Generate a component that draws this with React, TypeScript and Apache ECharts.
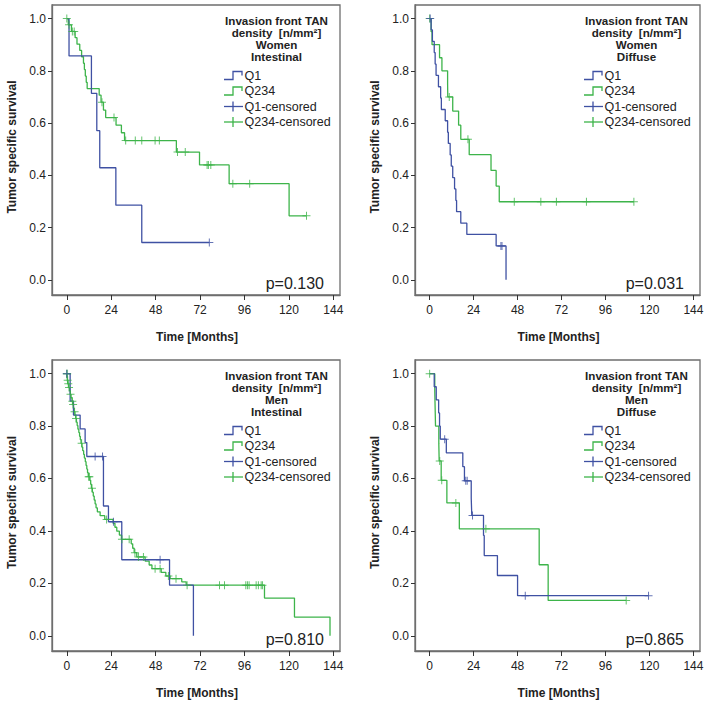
import React, { useEffect, useRef } from "react";
import * as echarts from "echarts";

// ---------- DATA ----------
const xTicks = [0, 24, 48, 72, 96, 120, 144];
const yTicks = [0, 0.2, 0.4, 0.6, 0.8, 1.0];

// Women, Intestinal
const wiQ1Times = [0, 1.2, 13.3, 16.2, 17.8, 26.5, 40.5];
const wiQ1Surv = [1, 0.857, 0.714, 0.571, 0.429, 0.286, 0.143];
const wiQ1Cens = [77];
const wiQ234Times = [0, 0.8, 2.5, 4.5, 5.5, 7, 8, 9, 9.5, 10, 10.5, 11, 17.5, 18.5, 19.8, 21, 26.6, 29.5, 31.2, 59.2, 71.7, 87.7, 120.1];
const wiQ234Surv = [1, 0.976, 0.951, 0.927, 0.902, 0.878, 0.854, 0.829, 0.805, 0.78, 0.756, 0.732, 0.707, 0.68, 0.65, 0.621, 0.592, 0.563, 0.533, 0.489, 0.44, 0.368, 0.245];
const wiQ234Cens = [0, 1.2, 3, 4, 19, 25.5, 31.8, 37, 40.5, 47.7, 50, 59.8, 64, 75.8, 76.5, 77.8, 89.7, 98.8, 129.5];

// Women, Diffuse
const wdQ1Times = [0, 0.8, 1.5, 2.5, 3.0, 3.5, 4.8, 6.0, 6.4, 8.5, 9.8, 10.2, 11.2, 11.8, 12.6, 13.6, 14.3, 14.7, 17.0, 20.3, 36.3, 41.7];
const wdQ1Surv = [1, 0.957, 0.913, 0.87, 0.826, 0.783, 0.739, 0.696, 0.652, 0.609, 0.565, 0.522, 0.478, 0.435, 0.391, 0.348, 0.304, 0.261, 0.217, 0.174, 0.13, 0];
const wdQ1Cens = [0.3, 38.9, 39.5];
const wdQ234Times = [0, 0.8, 1.3, 5.4, 6.7, 9.8, 9.9, 12.6, 15.8, 17.0, 21.6, 33.5, 36.3, 38.0];
const wdQ234Surv = [1, 0.95, 0.9, 0.85, 0.8, 0.75, 0.7, 0.646, 0.592, 0.538, 0.479, 0.419, 0.359, 0.299];
const wdQ234Cens = [0, 10.7, 20.9, 46.2, 60.7, 69.2, 85.6, 111.5];

// Men, Intestinal
const miQ1Times = [0, 1.8, 3.6, 7.2, 9.9, 10.8, 19.8, 22.5, 29.7, 55.5, 68.4];
const miQ1Surv = [1, 0.895, 0.842, 0.789, 0.737, 0.684, 0.495, 0.435, 0.29, 0.193, 0];
const miQ1Cens = [0, 15.3, 19.3, 25.2, 50.4];
const miQ234Times = [0, 0.3, 0.6, 1.0, 1.5, 1.9, 2.3, 2.8, 3.2, 3.6, 4.0, 4.4, 4.8, 5.2, 5.6, 6.0, 6.5, 6.9, 7.3, 7.7, 8.2, 8.6, 9.1, 9.5, 10.0, 10.4, 10.8, 11.2, 11.6, 12.5, 12.9, 13.3, 13.8, 14.3, 14.8, 15.3, 15.8, 16.5, 18.0, 20.5, 25.0, 26.0, 27.0, 28.4, 29.5, 34.8, 35.6, 36.4, 37.8, 42.3, 44.5, 46.0, 51.0, 53.5, 55.8, 62.1, 64.5, 106.8, 123.0, 142.2];
const miQ234Surv = [1, 0.975, 0.961, 0.947, 0.934, 0.921, 0.908, 0.895, 0.882, 0.868, 0.855, 0.842, 0.829, 0.815, 0.802, 0.788, 0.775, 0.761, 0.748, 0.734, 0.72, 0.706, 0.692, 0.678, 0.664, 0.65, 0.636, 0.622, 0.607, 0.593, 0.578, 0.563, 0.548, 0.533, 0.518, 0.503, 0.488, 0.473, 0.458, 0.444, 0.429, 0.414, 0.399, 0.384, 0.368, 0.351, 0.334, 0.317, 0.301, 0.285, 0.27, 0.256, 0.242, 0.228, 0.218, 0.206, 0.193, 0.144, 0.0715, 0];
const miQ234Cens = [0, 0.2, 0.45, 0.8, 1.2, 2.0, 3.0, 3.4, 4.2, 5.0, 8.0, 11.8, 12.2, 13.6, 21.5, 29.8, 33.7, 36.8, 38.7, 41.4, 47.7, 50.4, 54.9, 59.0, 65.0, 82.5, 85.2, 96.7, 97.6, 98.5, 102.3, 103.5, 105.0, 105.7];

// Men, Diffuse
const mdQ1Times = [0, 2.5, 3.6, 4.9, 5.4, 5.8, 9.1, 18.1, 19.0, 22.7, 23.0, 29.4, 29.8, 37.0, 48.0];
const mdQ1Surv = [1, 0.95, 0.9, 0.85, 0.8, 0.75, 0.698, 0.645, 0.591, 0.525, 0.459, 0.383, 0.306, 0.23, 0.153];
const mdQ1Cens = [8.2, 19.7, 20.5, 23.4, 52.2, 119.5];
const mdQ234Times = [0, 2.8, 3.0, 3.2, 5.0, 5.2, 6.3, 9.4, 16.2, 59.8, 64.7];
const mdQ234Surv = [1, 0.933, 0.867, 0.8, 0.733, 0.667, 0.593, 0.507, 0.408, 0.271, 0.135];
const mdQ234Cens = [0, 5.5, 6.6, 14.3, 30.7, 107.3];

const pValues = ["p=0.130", "p=0.031", "p=0.810", "p=0.865"];
const sexLabels = ["Women", "Women", "Men", "Men"];
const typeLabels = ["Intestinal", "Diffuse", "Intestinal", "Diffuse"];
const legendNames = ["Q1", "Q234", "Q1-censored", "Q234-censored"];

// ---------- STYLE / LAYOUT ----------
const BLUE = "#3F51A3";
const GREEN = "#3DB44A";
const AXIS = "#6e6e6e";
const TEXT = "#222";
const FONT = '"Liberation Sans", Arial, sans-serif';
const PLUS = "path://M3.5,0 h1 v8 h-1 z M0,3.5 h8 v1 h-8 z";

const panels = [
  { left: 52, top: 5, width: 288, height: 290 },
  { left: 415, top: 5, width: 285, height: 290 },
  { left: 52, top: 360, width: 288, height: 291 },
  { left: 415, top: 360, width: 285, height: 291 },
];

const curves = [
  [wiQ1Times, wiQ1Surv, wiQ1Cens, wiQ234Times, wiQ234Surv, wiQ234Cens],
  [wdQ1Times, wdQ1Surv, wdQ1Cens, wdQ234Times, wdQ234Surv, wdQ234Cens],
  [miQ1Times, miQ1Surv, miQ1Cens, miQ234Times, miQ234Surv, miQ234Cens],
  [mdQ1Times, mdQ1Surv, mdQ1Cens, mdQ234Times, mdQ234Surv, mdQ234Cens],
];

function stepData(times: number[], surv: number[], cens: number[]) {
  const d = times.map((t, i) => [t, surv[i]]);
  const lastT = times[times.length - 1];
  const maxC = cens.length ? Math.max(...cens) : -Infinity;
  if (maxC > lastT) d.push([maxC, surv[surv.length - 1]]);
  return d;
}
function survAt(times: number[], surv: number[], t: number) {
  let s = surv[0];
  for (let i = 0; i < times.length; i++) if (times[i] <= t) s = surv[i];
  return s;
}

function buildOption() {
  const grid: any[] = [];
  const xAxis: any[] = [];
  const yAxis: any[] = [];
  const series: any[] = [];
  const graphic: any[] = [];

  panels.forEach((p, i) => {
    grid.push({ left: p.left, top: p.top, width: p.width, height: p.height, show: true, borderColor: AXIS, borderWidth: 1.3, backgroundColor: "transparent" });
    xAxis.push({
      gridIndex: i, type: "value", min: -8, max: 147.6,
      axisLine: { show: true, onZero: false, lineStyle: { color: AXIS, width: 1.3 } },
      axisTick: { show: true, length: 5, customValues: xTicks, lineStyle: { color: "#333" } },
      axisLabel: { customValues: xTicks, margin: 9, color: TEXT, fontSize: 12, fontFamily: FONT },
      splitLine: { show: false },
    });
    yAxis.push({
      gridIndex: i, type: "value", min: -0.058, max: 1.052,
      axisLine: { show: true, onZero: false, lineStyle: { color: AXIS, width: 1.3 } },
      axisTick: { show: true, length: 4, customValues: yTicks, lineStyle: { color: "#333" } },
      axisLabel: { customValues: yTicks, margin: 6, color: TEXT, fontSize: 12, fontFamily: FONT, formatter: (v: number) => v.toFixed(1) },
      splitLine: { show: false },
    });
    const [t1, s1, c1, t2, s2, c2] = curves[i] as number[][];
    series.push({ type: "line", name: "Q234", xAxisIndex: i, yAxisIndex: i, step: "end", symbol: "none", data: stepData(t2, s2, c2), lineStyle: { color: GREEN, width: 1.3 }, itemStyle: { color: GREEN }, silent: true, z: 2 });
    series.push({ type: "line", name: "Q1", xAxisIndex: i, yAxisIndex: i, step: "end", symbol: "none", data: stepData(t1, s1, c1), lineStyle: { color: BLUE, width: 1.3 }, itemStyle: { color: BLUE }, silent: true, z: 3 });
    series.push({ type: "scatter", name: "Q234-censored", xAxisIndex: i, yAxisIndex: i, symbol: PLUS, symbolSize: 8, data: c2.map((t) => [t, survAt(t2, s2, t)]), itemStyle: { color: GREEN }, silent: true, z: 4 });
    series.push({ type: "scatter", name: "Q1-censored", xAxisIndex: i, yAxisIndex: i, symbol: PLUS, symbolSize: 8, data: c1.map((t) => [t, survAt(t1, s1, t)]), itemStyle: { color: BLUE }, silent: true, z: 5 });

    const R = p.left + p.width;
    const T = p.top;
    const B = p.top + p.height;
    // axis titles
    graphic.push({ type: "text", x: p.left - 40, y: (T + B) / 2 - 3, rotation: Math.PI / 2, style: { text: "Tumor specific survival", fontSize: 12, fontWeight: "bold", fontFamily: FONT, fill: TEXT, align: "center", verticalAlign: "middle" } });
    graphic.push({ type: "text", x: (p.left + R) / 2 + 1, y: B + 41.7, style: { text: "Time [Months]", fontSize: 12, fontWeight: "bold", fontFamily: FONT, fill: TEXT, align: "center", verticalAlign: "middle" } });
    // legend title
    const titleLines = ["Invasion front TAN", "density  [n/mm²]", sexLabels[i], typeLabels[i]];
    const titleY = [15.7, 27.7, 39.6, 51.7];
    titleLines.forEach((tx, k) => {
      graphic.push({ type: "text", x: R - 63.5, y: T + titleY[k], style: { text: tx, fontSize: 11.6, lineHeight: 11.5, fontWeight: "bold", fontFamily: FONT, fill: TEXT, align: "center", verticalAlign: "middle" } });
    });
    // legend items
    const itemY = [70.5, 86, 101.5, 117];
    const ix0 = R - 116;
    const ix1 = R - 98;
    legendNames.forEach((nm, k) => {
      const yc = T + itemY[k];
      const col = k % 2 === 0 ? BLUE : GREEN;
      if (k < 2) {
        graphic.push({ type: "polyline", shape: { points: [[ix0, yc + 4], [ix0 + 9, yc + 4], [ix0 + 9, yc - 4], [ix1, yc - 4], [ix1, yc]] }, style: { stroke: col, lineWidth: 1.3, fill: null } });
      } else {
        graphic.push({ type: "line", shape: { x1: ix0, y1: yc, x2: ix1 + 1, y2: yc }, style: { stroke: col, lineWidth: 1.3 } });
        graphic.push({ type: "line", shape: { x1: (ix0 + ix1) / 2, y1: yc - 5, x2: (ix0 + ix1) / 2, y2: yc + 5 }, style: { stroke: col, lineWidth: 1.3 } });
      }
      graphic.push({ type: "text", x: R - 95.5, y: yc, style: { text: nm, fontSize: 12.5, lineHeight: 14, fontFamily: FONT, fill: TEXT, align: "left", verticalAlign: "middle" } });
    });
    // p-value
    graphic.push({ type: "text", x: R - 16, y: B - 11.7, style: { text: pValues[i], fontSize: 16, fontFamily: FONT, fill: TEXT, align: "right", verticalAlign: "middle" } });
  });

  return { animation: false, backgroundColor: "#fff", grid, xAxis, yAxis, series, graphic };
}

export default function App() {
  const ref = useRef<HTMLDivElement>(null);
  useEffect(() => {
    if (!ref.current) return;
    const chart = echarts.init(ref.current, undefined, { renderer: "svg" });
    chart.setOption(buildOption() as any);
    return () => chart.dispose();
  }, []);
  return <div ref={ref} style={{ position: "absolute", left: 0, top: 0, width: 708, height: 701 }} />;
}
